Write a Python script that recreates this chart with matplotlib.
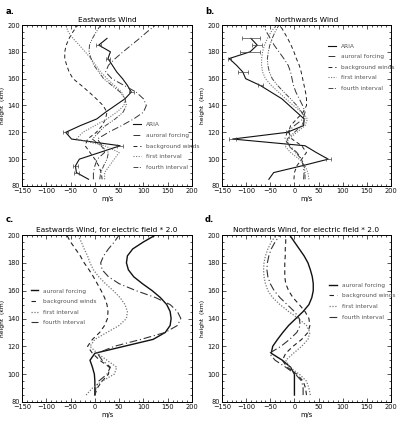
import matplotlib
matplotlib.use('Agg')
import matplotlib.pyplot as plt
from matplotlib.ticker import MultipleLocator
import numpy as np

# ---------------- data ----------------
heights = list(range(85, 201, 5))  # model height grid (km)

# Panel a: Eastwards wind
aria_a_h = [85, 90, 95, 100, 105, 110, 115, 120, 125, 130, 135, 140, 145, 150, 155, 160, 165, 170, 175, 180, 185, 190]
aria_a_v = [-13, -38, -40, -32, 10, 52, -48, -60, -30, 4, 22, 42, 62, 75, 67, 57, 45, 36, 27, 32, 8, 25]
aria_a_e = [0, 5, 5, 0, 0, 6, 0, 5, 0, 0, 0, 0, 0, 5, 0, 0, 0, 0, 5, 0, 5, 0]
a_auroral = [-3, -3, 0, 5, 20, 15, 5, 28, 55, 80, 100, 106, 100, 85, 60, 35, 22, 28, 42, 58, 75, 92, 108, 125]
a_background = [15, 13, 8, 0, -10, -20, -15, 3, 15, 22, 25, 17, 3, -12, -28, -45, -53, -58, -62, -62, -59, -53, -45, -35]
a_first = [20, 20, 30, 40, 50, 20, -38, -25, 0, 25, 45, 60, 62, 55, 40, 25, 12, 2, -8, -20, -32, -45, -55, -60]
a_fourth = [10, 12, 18, 25, 28, 12, -5, 8, 22, 42, 58, 65, 62, 52, 35, 18, 8, -2, -8, -12, -11, -5, 3, 12]

# Panel b: Northwards wind
aria_b_h = [85, 90, 95, 100, 105, 110, 115, 120, 125, 130, 145, 155, 160, 165, 170, 175, 180, 185, 190]
aria_b_v = [-53, -43, 15, 70, 45, 22, -128, -15, 19, 20, -26, -71, -101, -107, -120, -135, -92, -77, -90]
aria_b_e = [0, 0, 0, 5, 0, 0, 8, 3, 0, 0, 0, 5, 0, 10, 0, 3, 20, 10, 18]
b_auroral = [19, 20, 18, 15, 5, -10, -20, -15, 0, 18, 22, 17, 10, 3, -2, -5, -8, -13, -22, -32, -42, -50, -58, -65]
b_background = [-1, 0, 5, 15, 25, 15, -5, -12, -8, 5, 18, 25, 25, 23, 20, 17, 14, 10, 4, -1, -7, -14, -22, -30]
b_first = [30, 28, 22, 10, -8, -20, -12, 5, 22, 27, 15, -2, -18, -33, -48, -60, -66, -68, -68, -66, -62, -56, -48, -38]
b_fourth = [22, 22, 20, 15, 2, -12, -15, 0, 15, 22, 15, 5, -8, -22, -35, -46, -52, -55, -56, -54, -51, -46, -40, -32]

# Panel c: Eastwards wind, electric field * 2.0
c_auroral = [0, 0, 0, -1, -5, -10, 0, 60, 120, 145, 155, 157, 155, 148, 135, 118, 98, 80, 69, 65, 67, 78, 100, 125]
c_background = [0, 5, 15, 28, 30, 10, -5, -15, -5, 10, 20, 26, 27, 25, 20, 13, 5, -3, -12, -22, -30, -40, -50, -58]
c_first = [-18, -5, 15, 40, 45, 25, 5, -10, 0, 25, 50, 65, 67, 62, 52, 38, 22, 8, -3, -10, -15, -22, -28, -35]
c_fourth = [0, 2, 8, 25, 32, 15, 5, 40, 95, 145, 170, 177, 170, 155, 125, 85, 50, 28, 15, 12, 18, 28, 40, 50]

# Panel d: Northwards wind, electric field * 2.0
d_auroral = [0, 0, 0, 0, -8, -25, -48, -45, -35, -24, -12, 3, 18, 30, 36, 39, 39, 37, 33, 28, 20, 10, 0, -10]
d_background = [25, 23, 18, 5, -15, -25, -18, -3, 15, 28, 32, 30, 22, 10, -3, -12, -18, -20, -20, -20, -19, -19, -18, -18]
d_first = [33, 30, 25, 10, -10, -18, -2, 15, 28, 32, 25, 8, -12, -30, -45, -55, -60, -63, -64, -63, -60, -55, -48, -38]
d_fourth = [18, 18, 15, 2, -18, -40, -52, -28, -10, 5, 12, 10, 0, -15, -30, -42, -50, -55, -57, -56, -53, -48, -40, -30]

labels = ['ARIA', 'auroral forcing', 'background winds', 'first interval', 'fourth interval']
titles = ['Eastwards Wind', 'Northwards Wind',
          'Eastwards Wind, for electric field * 2.0', 'Northwards Wind, for electric field * 2.0']
panel_tags = ['a.', 'b.', 'c.', 'd.']
xticks = [-150, -100, -50, 0, 50, 100, 150, 200]
yticks = [80, 100, 120, 140, 160, 180, 200]

# ---------------- styles ----------------
sty_ab = {
    'ARIA': dict(color='#111111', ls='-', lw=0.8),
    'auroral forcing': dict(color='#333333', ls=(0, (7, 2.5, 1, 2.5)), lw=0.7),
    'background winds': dict(color='#222222', ls=(0, (4, 3)), lw=0.7),
    'first interval': dict(color='#777777', ls=(0, (1, 1.3)), lw=0.8),
    'fourth interval': dict(color='#444444', ls=(0, (5, 1.5, 1, 1.5, 1, 1.5)), lw=0.7),
}
sty_cd = {
    'auroral forcing': dict(color='#111111', ls='-', lw=1.0),
    'background winds': dict(color='#222222', ls=(0, (4, 3)), lw=0.8),
    'first interval': dict(color='#777777', ls=(0, (1, 1.3)), lw=0.9),
    'fourth interval': dict(color='#333333', ls=(0, (7, 2.5, 1, 2.5)), lw=0.8),
}

W, H = 398, 421
fig = plt.figure(figsize=(W / 100, H / 100), dpi=100)


def px_axes(l, t, r, b):
    return fig.add_axes([l / W, 1 - b / H, (r - l) / W, (b - t) / H])


boxes = [(22, 25, 192, 186), (222, 25, 391, 186), (22, 235, 192, 402), (222, 235, 391, 402)]
axes = [px_axes(*b) for b in boxes]

models = [
    [a_auroral, a_background, a_first, a_fourth],
    [b_auroral, b_background, b_first, b_fourth],
    [c_auroral, c_background, c_first, c_fourth],
    [d_auroral, d_background, d_first, d_fourth],
]
arias = [(aria_a_h, aria_a_v, aria_a_e), (aria_b_h, aria_b_v, aria_b_e), None, None]
legend_pos = [(0.655, 0.395), (0.63, 0.885), (0.05, 0.68), (0.635, 0.715)]

for i, ax in enumerate(axes):
    sty = sty_ab if i < 2 else sty_cd
    if arias[i] is not None:
        hh, vv, ee = (np.array(a) for a in arias[i])
        ax.plot(vv, hh, label='ARIA', **sty['ARIA'])
        m = ee > 0
        ax.errorbar(vv[m], hh[m], xerr=ee[m], fmt='none', ecolor='#444444',
                    elinewidth=0.5, capsize=1.3, capthick=0.5)
    for lab, vals in zip(labels[1:], models[i]):
        ax.plot(vals, heights, label=lab, **sty[lab])

    ax.set_xlim(-150, 200)
    ax.set_ylim(80, 200)
    ax.set_xticks(xticks)
    ax.set_yticks(yticks)
    ax.xaxis.set_minor_locator(MultipleLocator(10))
    ax.yaxis.set_minor_locator(MultipleLocator(5))
    ax.tick_params(which='both', direction='in', top=True, right=True, width=0.5,
                   labelsize=4.8, pad=1.5, colors='#111111')
    ax.tick_params(which='major', length=3)
    ax.tick_params(which='minor', length=1.5)
    for s in ax.spines.values():
        s.set_linewidth(0.7)
    ax.set_title(titles[i], fontsize=5.3, pad=2)
    ax.set_xlabel('m/s', fontsize=4.8, labelpad=1.5)
    ax.set_ylabel('height  (km)', fontsize=4.3, labelpad=1.5)
    leg = ax.legend(loc='upper left', bbox_to_anchor=legend_pos[i], frameon=False,
                    fontsize=4.2, handlelength=1.3, handletextpad=0.9,
                    labelspacing=0.95, borderpad=0, borderaxespad=0)
    for t in leg.get_texts():
        t.set_color('#555555')

tag_pos = [(6, 12), (205, 12), (6, 220), (205, 220)]
for tag, (x, y) in zip(panel_tags, tag_pos):
    fig.text(x / W, 1 - y / H, tag, fontsize=6, fontweight='bold', ha='left', va='center')

fig.savefig('out.png', dpi=100)
